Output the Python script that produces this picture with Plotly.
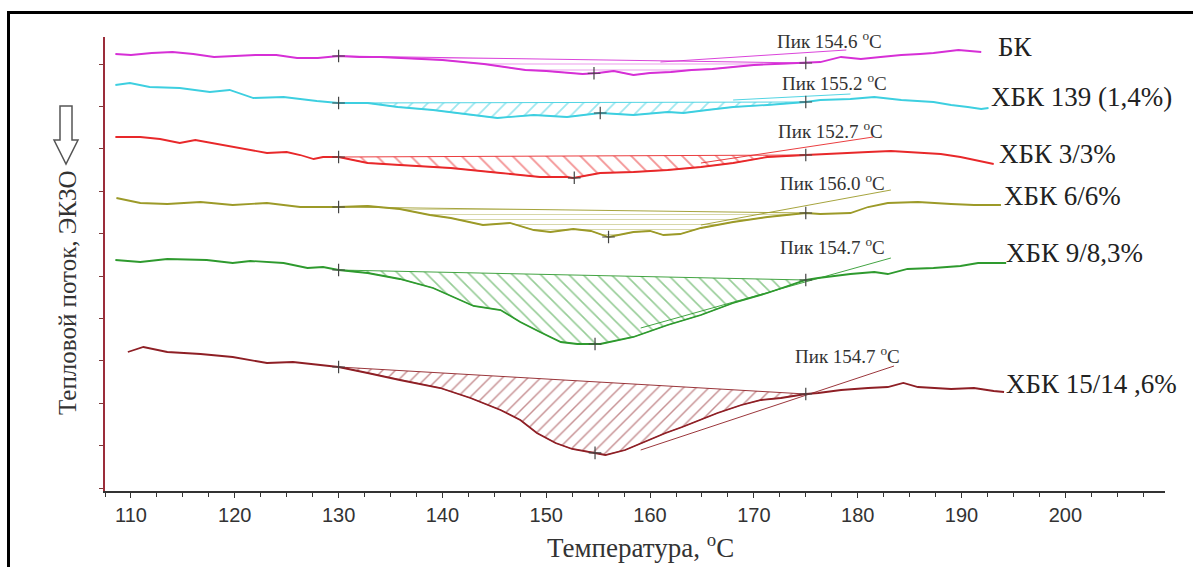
import numpy as np
import plotly.graph_objects as go

# ---------------- data (heat flow in arbitrary units) -------------
temp_bk = [108.5, 110, 112, 114, 116, 118, 120, 122, 124, 126, 128, 130, 132, 134, 136, 138, 140, 142, 144,
           146, 148, 150, 152, 153.5, 155, 156.5, 158.4, 160, 162, 164, 166, 168, 170, 172, 174, 175, 176.4,
           178.4, 180.3, 182.2, 184.2, 186, 187.3, 189.7, 191.9]
flow_bk = [437, 436, 438, 439, 437, 434, 435, 436, 436, 433, 433, 435, 434, 434, 433, 432, 431, 429, 427,
           424, 421, 420, 418, 417, 418, 420, 416, 418, 419, 421, 422, 424, 426, 427, 428, 428, 429,
           434, 432, 434, 436, 437, 438, 441, 439]

temp_139 = [108.5, 109.9, 111.8, 114.7, 117.6, 119.5, 121.8, 124.7, 127.9, 130, 132.8, 135.7, 139.1, 142,
            145.3, 148.8, 152, 155.2, 158.4, 161.7, 163.2, 165.5, 168, 171.3, 175, 176.4, 179.3, 181.6,
            184.2, 187.3, 189, 190.6, 191.9, 192.6]
flow_139 = [406, 408, 404, 403, 399, 401, 393, 394, 390, 388, 388, 384, 381, 377,
            373, 376, 374, 378, 376, 379, 378, 381, 384, 386, 389, 391, 392, 394,
            391, 389, 386, 384, 382, 383]

temp_3 = [108.5, 110.9, 112.8, 114.7, 116.2, 118.3, 120.5, 123.1, 125, 126.3, 127.6, 128.5, 130, 132.8,
          135.9, 140.8, 145.6, 149.4, 152, 152.6, 155.2, 158.4, 161.7, 164.9, 168, 171.3, 175, 178.4,
          181, 183.2, 185.8, 188, 189.9, 191.6, 193.1]
flow_3 = [354, 354, 352, 348, 351, 347, 343, 338, 339, 336, 332, 334, 334, 328,
          326, 323, 318, 314, 314, 313, 318, 319, 321, 324, 328, 334, 336, 338,
          339, 340, 338, 337, 334, 330, 327]

temp_6 = [108.6, 110.9, 113.5, 116.7, 119.8, 123.1, 126.3, 130, 132.8, 135.9, 138.8, 140.8, 143.9, 146.5,
          148.8, 150.4, 152.6, 154.3, 156, 158.4, 160, 161.3, 162.9, 164.9, 168, 171.3, 175, 176.4,
          179.3, 181, 182.9, 185.8, 189, 191.2, 193.8]
flow_6 = [293, 288, 287, 289, 286, 288, 284, 284, 285, 282, 276, 273, 266, 268,
          261, 259, 262, 260, 254, 259, 260, 256, 257, 263, 269, 274, 278, 277,
          278, 284, 288, 289, 287, 286, 286]

temp_9 = [108.5, 110.9, 113.5, 117.3, 119.8, 121.5, 124.7, 127, 128.5, 130, 132.8, 135.9, 139.1, 141.7,
          143, 145.6, 147.5, 149.4, 151.4, 153, 155.2, 158.4, 161.7, 164.9, 168, 171.3, 175, 176.2,
          179.3, 181.6, 182.9, 184.8, 187.3, 189.9, 191.6, 194.3]
flow_9 = [231, 229, 232, 231, 228, 230, 228, 223, 224, 221, 218, 212, 203, 191,
          185, 181, 169, 159, 149, 147, 147, 154, 166, 176, 188, 198, 211, 213,
          217, 219, 217, 222, 223, 225, 228, 228]

temp_15 = [109.7, 111.2, 113.5, 116.7, 119.8, 123.1, 125.6, 127.9, 130, 132.8, 135.9, 139.8, 142.7, 145.6,
           147.5, 149.1, 150.9, 152.5, 154.3, 155.7, 157.6, 159.6, 161.5, 163.1, 164.9, 166.5, 168.8,
           170.7, 172.6, 175, 176.2, 178.4, 181, 182.9, 184.4, 185.8, 189, 191.2, 193.1, 194.1]
flow_15 = [139, 144, 139, 137, 134, 128, 129, 126, 124, 118, 111, 103, 93, 81,
           71, 58, 48, 42, 39, 36, 41, 50, 58, 64, 71, 78, 86,
           91, 93, 97, 98, 101, 103, 104, 108, 104, 102, 103, 100, 99]

sample_names = ["БК", "ХБК 139 (1,4%)", "ХБК 3/3%", "ХБК 6/6%", "ХБК 9/8,3%", "ХБК 15/14 ,6%"]
peak_temps = [154.6, 155.2, 152.7, 156.0, 154.7, 154.7]
integration_limits = [130, 175]
tangent_temps = [[161.0, 178.9], [168.0, 179.3], [164.9, 181.5], [164.9, 183.2], [159.1, 183.2], [159.1, 183.5]]
tangent_flows = [[429, 441], [391, 397], [328, 354], [266, 301], [163, 233], [41, 125]]

x_ticks = [110, 120, 130, 140, 150, 160, 170, 180, 190, 200]

# ---------------- styling ----------------
W, H = 1193, 567
ML, MR, MT, MB = 105, 28, 37, 76
PW, PH = W - ML - MR, H - MT - MB

def px(x):
    return (x - ML) / PW

def py(y):
    return (H - MB - y) / PH

colors = ["#D62FD6", "#3DCFE0", "#E8282A", "#9C9A28", "#2E9A2E", "#8E1F25"]
hatch = [("-", 6), ("/", 11), ("\\", 12), ("-", 5), ("\\", 10), ("/", 9)]
peak_label_pos = [(775, 40), (780, 82), (776, 130), (778, 182), (778, 246), (793, 355)]
name_pos = [(996, 47), (989, 97), (997, 154), (1002, 196), (1004, 253), (1004, 384)]

series = [(temp_bk, flow_bk), (temp_139, flow_139), (temp_3, flow_3),
          (temp_6, flow_6), (temp_9, flow_9), (temp_15, flow_15)]

fig = go.Figure()
SERIF = "Liberation Serif, Times New Roman, serif"
SANS = "Liberation Sans, Arial, sans-serif"

annotations = []
for i, (t, f) in enumerate(series):
    t = np.array(t, dtype=float)
    f = np.array(f, dtype=float)
    c = colors[i]
    lo, hi = integration_limits
    m = (t >= lo) & (t <= hi)
    shape, size = hatch[i]
    # hatched integration area
    fig.add_trace(go.Scatter(
        x=t[m], y=f[m], mode="lines", fill="toself",
        fillcolor="rgba(0,0,0,0)",
        fillpattern=dict(shape=shape, fgcolor=c, bgcolor="rgba(0,0,0,0)", size=size, solidity=0.16),
        line=dict(color=c, width=0.6), hoverinfo="skip", showlegend=False))
    # baseline
    fb = np.interp([lo, hi], t, f)
    fig.add_trace(go.Scatter(x=[lo, hi], y=fb, mode="lines",
                             line=dict(color=c, width=0.9), showlegend=False, hoverinfo="skip"))
    # tangent / peak leader line
    fig.add_trace(go.Scatter(x=tangent_temps[i], y=tangent_flows[i], mode="lines",
                             line=dict(color=c, width=0.9), showlegend=False, hoverinfo="skip"))
    # curve
    fig.add_trace(go.Scatter(x=t, y=f, mode="lines", line=dict(color=c, width=1.8),
                             name=sample_names[i], showlegend=False))
    # "+" markers
    mt = [lo, hi, peak_temps[i]]
    mf = np.interp(mt, t, f)
    fig.add_trace(go.Scatter(x=mt, y=mf, mode="markers",
                             marker=dict(symbol="cross-thin", size=9,
                                         line=dict(color="#444444", width=1.2)),
                             showlegend=False, hoverinfo="skip"))
    lx, ly = peak_label_pos[i]
    annotations.append(dict(x=px(lx), y=py(ly), xref="paper", yref="paper",
                            text=f"Пик {peak_temps[i]:.1f} <sup>o</sup>C", showarrow=False,
                            xanchor="left", yanchor="middle",
                            font=dict(family=SERIF, size=19, color="#333333")))
    nx, ny = name_pos[i]
    annotations.append(dict(x=px(nx), y=py(ny), xref="paper", yref="paper",
                            text=sample_names[i], showarrow=False,
                            xanchor="left", yanchor="middle",
                            font=dict(family=SERIF, size=27, color="#222222")))

annotations.append(dict(x=px(640), y=py(546), xref="paper", yref="paper",
                        text="Температура, <sup>o</sup>C", showarrow=False,
                        xanchor="center", yanchor="middle",
                        font=dict(family=SERIF, size=27, color="#333333")))
annotations.append(dict(x=px(67), y=py(293), xref="paper", yref="paper",
                        text="Тепловой поток, ЭКЗО", showarrow=False, textangle=-90,
                        xanchor="center", yanchor="middle",
                        font=dict(family=SERIF, size=25, color="#333333")))

arrow = [(60, 106), (72, 106), (72, 140), (78, 140), (66, 164), (54, 140), (60, 140)]
path = "M " + " L ".join(f"{px(a):.5f},{py(b):.5f}" for a, b in arrow) + " Z"

shapes = [
    dict(type="path", xref="paper", yref="paper", path=path,
         line=dict(color="#555555", width=1.5), fillcolor="rgba(0,0,0,0)"),
    dict(type="line", xref="paper", yref="paper", x0=px(8.5), x1=px(8.5), y0=py(11), y1=py(570),
         line=dict(color="#000000", width=3)),
    dict(type="line", xref="paper", yref="paper", x0=px(7), x1=px(1200), y0=py(12.5), y1=py(12.5),
         line=dict(color="#000000", width=3)),
]

fig.update_layout(
    width=W, height=H,
    margin=dict(l=ML, r=MR, t=MT, b=MB),
    paper_bgcolor="white", plot_bgcolor="white",
    showlegend=False,
    annotations=annotations, shapes=shapes,
    xaxis=dict(range=[107.5, 209.6], showline=True, linecolor="#333333", linewidth=1.5,
               tickmode="array", tickvals=x_ticks, ticktext=[str(v) for v in x_ticks],
               ticks="outside", ticklen=5, tickwidth=1.2, tickcolor="#333333",
               minor=dict(dtick=2.5, tick0=110, ticks="outside", ticklen=4, tickcolor="#333333", tickwidth=1.2),
               tickfont=dict(family=SANS, size=20, color="#333333"),
               showgrid=False, zeroline=False),
    yaxis=dict(range=[0, 454], showline=True, linecolor="#9B2D3A", linewidth=1.5,
               tick0=3, dtick=42.4, ticks="outside", ticklen=4, tickcolor="#7A3A3A",
               showticklabels=False, showgrid=False, zeroline=False),
)

fig.write_html("out.html")
